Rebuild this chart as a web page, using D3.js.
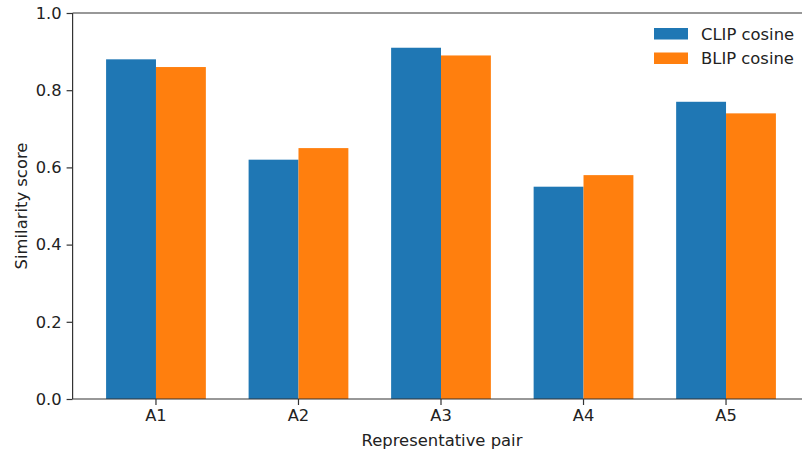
<!DOCTYPE html>
<html>
<head>
<meta charset="utf-8">
<script src="https://cdn.jsdelivr.net/npm/d3@7"></script>
<style>
  html, body { margin: 0; padding: 0; background: #fff; }
  svg { display: block; font-family: "DejaVu Sans", sans-serif; }
</style>
</head>
<body>
<div id="chart"></div>
<script>
// Similarity scores per representative pair
const categories = ["A1", "A2", "A3", "A4", "A5"];
const seriesNames = ["CLIP cosine", "BLIP cosine"];
const clipValues = [0.88, 0.62, 0.91, 0.55, 0.77];
const blipValues = [0.86, 0.65, 0.89, 0.58, 0.74];
const yTicks = [0.0, 0.2, 0.4, 0.6, 0.8, 1.0];
const colors = ["#1f77b4", "#ff7f0e"];

const W = 802, H = 454;
const plot = { left: 72.6, right: 809.4, top: 13, bottom: 399 };

const svg = d3.select("#chart").append("svg")
  .attr("width", W).attr("height", H);

const x = d3.scaleBand()
  .domain(categories)
  .range([plot.left, plot.right])
  .paddingInner(0.3)
  .paddingOuter(0.235);

const xSub = d3.scaleBand()
  .domain(seriesNames)
  .range([0, x.bandwidth()]);

const y = d3.scaleLinear().domain([0, 1]).range([plot.bottom, plot.top]);

const rows = categories.map((c, i) => ({
  cat: c,
  vals: [clipValues[i], blipValues[i]]
}));

// bars
const groups = svg.append("g").selectAll("g")
  .data(rows).join("g")
  .attr("transform", d => `translate(${x(d.cat)},0)`);

groups.selectAll("rect")
  .data(d => d.vals.map((v, j) => ({ name: seriesNames[j], v, j })))
  .join("rect")
  .attr("x", d => xSub(d.name))
  .attr("width", xSub.bandwidth())
  .attr("y", d => y(d.v))
  .attr("height", d => y(0) - y(d.v))
  .attr("fill", d => colors[d.j]);

// axes
const axisColor = "#333";
const xAxis = svg.append("g")
  .attr("transform", `translate(0,${plot.bottom})`)
  .call(d3.axisBottom(x).tickSize(6).tickPadding(4).tickSizeOuter(0));
xAxis.select(".domain").remove();

const yAxis = svg.append("g")
  .attr("transform", `translate(${plot.left},0)`)
  .call(d3.axisLeft(y).tickValues(yTicks).tickFormat(d3.format(".1f"))
    .tickSize(6).tickPadding(5).tickSizeOuter(0));
yAxis.select(".domain").remove();

[xAxis, yAxis].forEach(a => {
  a.selectAll("text").attr("font-size", 16.3).attr("fill", "#222")
    .attr("font-family", "DejaVu Sans, sans-serif");
  a.selectAll("line").attr("stroke", axisColor).attr("stroke-width", 1.2);
});

// spines
const spines = svg.append("g").attr("stroke", axisColor).attr("stroke-width", 1.2).attr("fill", "none");
spines.append("line").attr("x1", plot.left).attr("x2", plot.left).attr("y1", plot.top).attr("y2", plot.bottom);
spines.append("line").attr("x1", plot.left).attr("x2", plot.right).attr("y1", plot.bottom).attr("y2", plot.bottom);
spines.append("line").attr("x1", plot.left).attr("x2", plot.right).attr("y1", plot.top).attr("y2", plot.top);
spines.append("line").attr("x1", plot.right).attr("x2", plot.right).attr("y1", plot.top).attr("y2", plot.bottom);

// axis titles
svg.append("text")
  .attr("x", (plot.left + plot.right) / 2 + 1).attr("y", 446)
  .attr("text-anchor", "middle").attr("font-size", 16.4).attr("fill", "#222")
  .text("Representative pair");

svg.append("text")
  .attr("transform", `translate(27,${(plot.top + plot.bottom) / 2}) rotate(-90)`)
  .attr("text-anchor", "middle").attr("font-size", 16.4).attr("fill", "#222")
  .text("Similarity score");

// legend
const legend = svg.append("g").attr("transform", "translate(654,28)");
const item = legend.selectAll("g").data(seriesNames).join("g")
  .attr("transform", (d, i) => `translate(0,${i * 24.5})`);
item.append("rect").attr("width", 34).attr("height", 11.5)
  .attr("fill", (d, i) => colors[i]);
item.append("text").attr("x", 47).attr("y", 11.5)
  .attr("font-size", 16.4).attr("fill", "#222").text(d => d);
</script>
</body>
</html>
